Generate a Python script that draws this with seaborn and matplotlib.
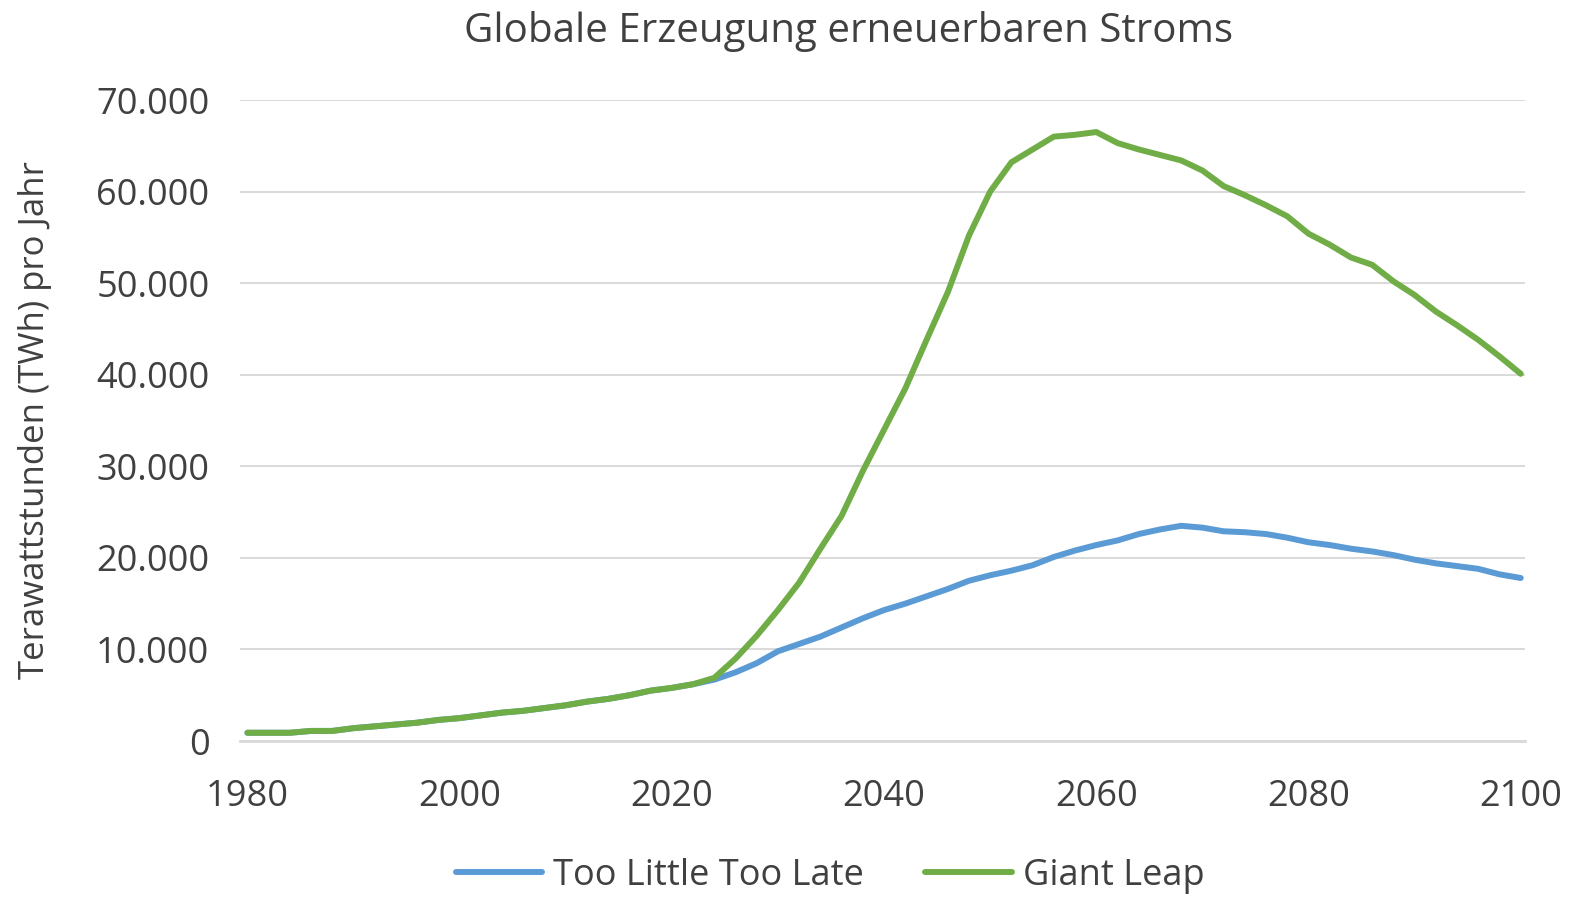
import numpy as np
import pandas as pd
import matplotlib
matplotlib.use("Agg")
import matplotlib.pyplot as plt
import seaborn as sns
from matplotlib.ticker import FuncFormatter

# ─── Data (TWh per year) ─────────────────────────────────────

years = list(range(1980, 2101, 2))

shared = [900, 900, 900, 1100, 1100, 1400, 1600, 1800, 2000, 2300, 2500,
          2800, 3100, 3300, 3600, 3900, 4300, 4600, 5000, 5500, 5800, 6200]

too_little = shared + [
    6700, 7500, 8500, 9800, 10600, 11400, 12400, 13400, 14300, 15000,
    15800, 16600, 17500, 18100, 18600, 19200, 20100, 20800, 21400, 21900,
    22600, 23100, 23500, 23300, 22900, 22800, 22600, 22200, 21700, 21400,
    21000, 20700, 20300, 19800, 19400, 19100, 18800, 18200, 17800]

giant_leap = shared + [
    6900, 9000, 11500, 14300, 17300, 21000, 24600, 29500, 34000, 38500,
    43800, 49000, 55200, 60000, 63200, 64600, 66000, 66200, 66500, 65300,
    64600, 64000, 63400, 62300, 60600, 59600, 58500, 57300, 55400, 54200,
    52800, 52000, 50200, 48700, 46900, 45400, 43800, 42000, 40100]

series_names = ["Too Little Too Late", "Giant Leap"]
colors = ["#5B9BD5", "#70AD47"]

yticks = list(range(0, 70001, 10000))
xticks = list(range(1980, 2101, 20))

# ─── Plot ────────────────────────────────────────────────────

df = pd.DataFrame({
    "Jahr": years * 2,
    "TWh": too_little + giant_leap,
    "Szenario": [series_names[0]] * len(years) + [series_names[1]] * len(years),
})

sns.set_theme(style="white")
plt.rcParams["font.family"] = ["Open Sans", "DejaVu Sans"]
text_color = "#404040"

fig = plt.figure(figsize=(15.7, 8.97), dpi=100)
ax = fig.add_axes([240 / 1570, 1 - 741 / 897, 1285 / 1570, 641 / 897])

sns.lineplot(data=df, x="Jahr", y="TWh", hue="Szenario",
             hue_order=series_names, palette=colors,
             linewidth=4.3, ax=ax, legend=False)
for line in ax.lines:
    line.set_solid_capstyle("round")
    line.set_solid_joinstyle("round")

ax.set_xlim(1979.3, 2100.4)
ax.set_ylim(0, 70000)
ax.set_xticks(xticks)
ax.set_yticks(yticks)
ax.yaxis.set_major_formatter(FuncFormatter(lambda v, _: f"{int(v):,}".replace(",", ".")))

ax.grid(axis="y", color="#d9d9d9", linewidth=1.4)
ax.grid(axis="x", visible=False)
for side in ["top", "right", "left"]:
    ax.spines[side].set_visible(False)
ax.spines["bottom"].set_color("#d9d9d9")
ax.spines["bottom"].set_linewidth(2)

ax.tick_params(axis="both", length=0, labelsize=26, colors=text_color)
ax.tick_params(axis="y", pad=22)
ax.tick_params(axis="x", pad=27)

ax.set_xlabel("")
ax.set_ylabel("Terawattstunden (TWh) pro Jahr", fontsize=25, color=text_color)
ax.yaxis.set_label_coords(-0.146, 0.5)

fig.text(848 / 1570, 1 - 31 / 897, "Globale Erzeugung erneuerbaren Stroms",
         fontsize=29, color=text_color, ha="center", va="center")

handles = [plt.Line2D([], [], color=c, linewidth=4.3) for c in colors]
fig.legend(handles, series_names, loc="center",
           bbox_to_anchor=(830 / 1570, 1 - 876 / 897), ncol=2, frameon=False,
           fontsize=26, labelcolor=text_color, handlelength=2.4,
           handletextpad=0.3, columnspacing=1.7)

fig.savefig("out.png", dpi=100, facecolor="white")
plt.close(fig)
